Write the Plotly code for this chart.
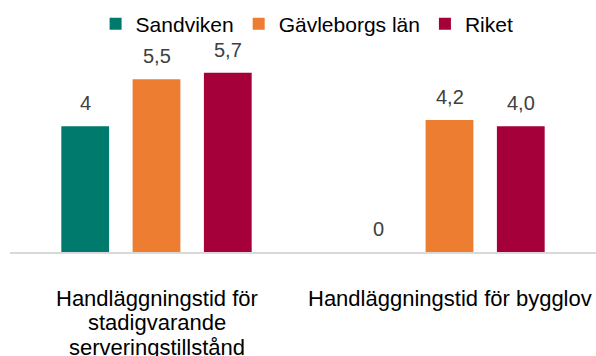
import plotly.graph_objects as go

categories = ["Handläggningstid för stadigvarande serveringstillstånd",
              "Handläggningstid för bygglov"]
category_lines = [["Handläggningstid för", "stadigvarande", "serveringstillstånd"],
                  ["Handläggningstid för bygglov"]]
series_names = ["Sandviken", "Gävleborgs län", "Riket"]
sandviken = [4, 0]
gavleborg = [5.5, 4.2]
riket = [5.7, 4.0]
value_labels = [["4", "0"], ["5,5", "4,2"], ["5,7", "4,0"]]
colors = ["#007A6D", "#ED7D31", "#A6003A"]

series_values = [sandviken, gavleborg, riket]

fig = go.Figure()
for name, vals, col in zip(series_names, series_values, colors):
    fig.add_trace(go.Bar(x=categories, y=vals, name=name, marker_color=col,
                         marker_line_width=0))

# value labels above each bar, placed per series offset within the group
annotations = []
n = len(series_names)
for i, (vals, labels) in enumerate(zip(series_values, value_labels)):
    for j, (v, lab) in enumerate(zip(vals, labels)):
        offset = (i - (n - 1) / 2) * (1 - 0.27) / n
        annotations.append(dict(x=j + offset, y=v, xref="x", yref="y",
                                text=lab, showarrow=False, yanchor="middle",
                                yshift=23,
                                font=dict(family="Liberation Sans, Arial", size=20,
                                          color="#404040")))

# category labels beneath the axis, one annotation per line
for j, lines in enumerate(category_lines):
    for k, line in enumerate(lines):
        annotations.append(dict(x=j, y=0, xref="x", yref="y", text=line,
                                showarrow=False, yanchor="middle",
                                yshift=-46 - 24.5 * k,
                                font=dict(family="Liberation Sans, Arial", size=22,
                                          color="#000000")))

fig.update_layout(
    width=596, height=356,
    margin=dict(l=10, r=0, t=31.5, b=104, autoexpand=False),
    paper_bgcolor="white", plot_bgcolor="white",
    barmode="group", bargap=0.27, bargroupgap=0.33,
    showlegend=True,
    legend=dict(orientation="h", x=0.507, xanchor="center", y=0.99, yanchor="top",
                yref="container", font=dict(family="Liberation Sans, Arial", size=21,
                                            color="#000000"),
                itemwidth=30, tracegroupgap=0),
    annotations=annotations,
    xaxis=dict(type="category", range=[-0.5, 1.5], showticklabels=False,
               showline=True, linecolor="#D9D9D9", linewidth=1.5, ticks="",
               showgrid=False, zeroline=False),
    yaxis=dict(range=[0, 7], visible=False, showgrid=False, zeroline=False),
)

fig.write_html("out.html")
